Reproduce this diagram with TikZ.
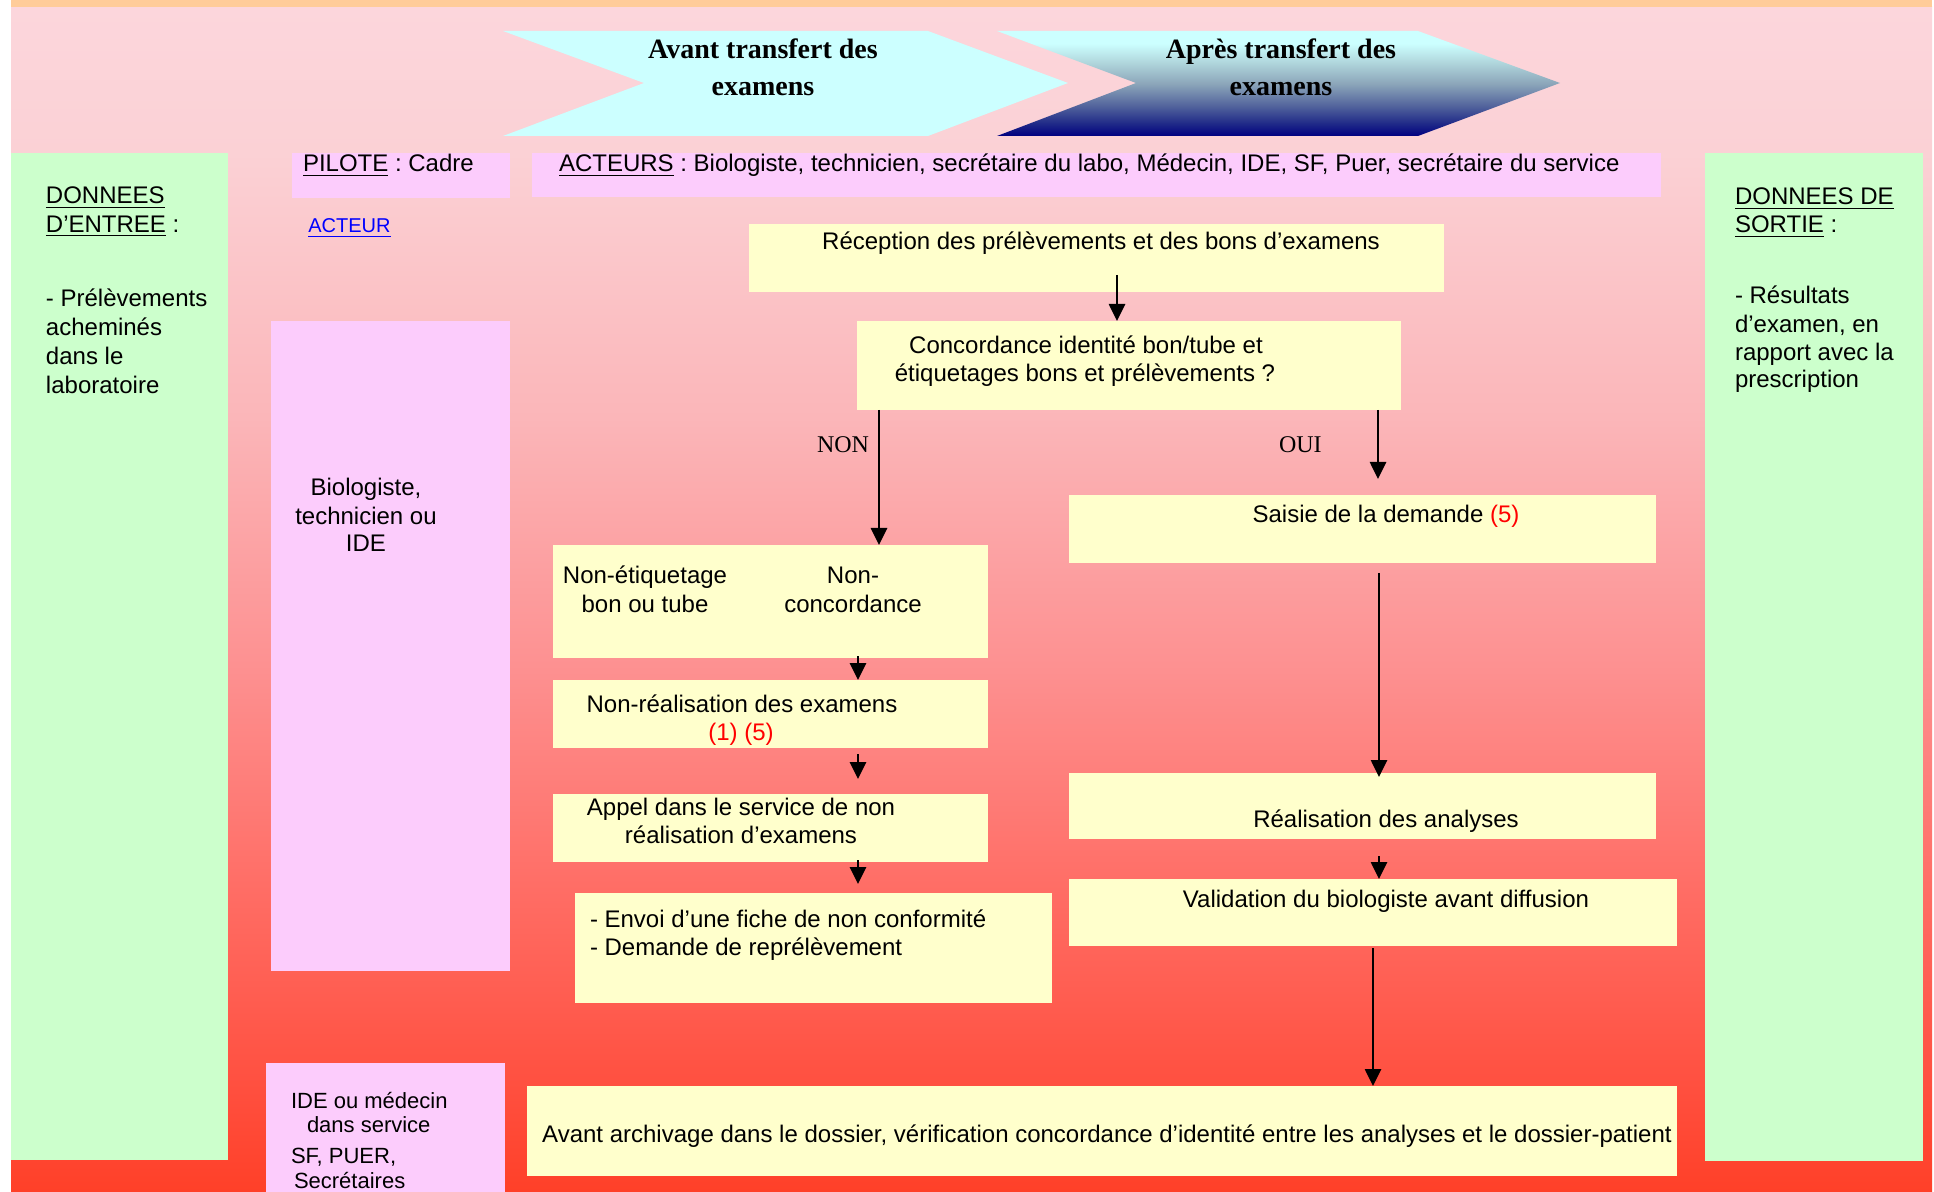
\documentclass[tikz,border=0pt]{standalone}
\usepackage{fontspec}
\setmainfont{Liberation Sans}
\newfontfamily\tms{Liberation Serif}
\usetikzlibrary{arrows.meta,fit,calc}
\frenchspacing
\definecolor{boxyellow}{HTML}{FFFFCC}
\definecolor{boxgreen}{HTML}{CCFFCC}
\definecolor{boxpink}{HTML}{FCCCFC}
\definecolor{stripor}{HTML}{FFCC99}
\definecolor{chevcyan}{HTML}{CCFFFF}
\definecolor{cha}{HTML}{000080}
\definecolor{chb}{HTML}{202A88}
\definecolor{chc}{HTML}{56689E}
\definecolor{chd}{HTML}{8CA6BA}
\definecolor{che}{HTML}{B0D6DC}
\definecolor{linkblue}{HTML}{0000FF}
\definecolor{numred}{HTML}{FF0000}
\definecolor{bga}{HTML}{FF4028}
\definecolor{bgb}{HTML}{FF5040}
\definecolor{bgc}{HTML}{FF6E66}
\definecolor{bgd}{HTML}{FD9090}
\definecolor{bge}{HTML}{FBB6B9}
\definecolor{bgf}{HTML}{FBD1D5}
\definecolor{bgg}{HTML}{FCD6DC}
\pgfdeclareverticalshading{bgshade}{100bp}{color(0bp)=(bga); color(25bp)=(bga); color(29.6bp)=(bgb); color(38bp)=(bgc); color(47bp)=(bgd); color(57.7bp)=(bge); color(68.85bp)=(bgf); color(75bp)=(bgg); color(100bp)=(bgg)}
\pgfdeclareverticalshading{chevshade}{100bp}{color(0bp)=(cha); color(25bp)=(cha); color(31bp)=(chb); color(40bp)=(chc); color(50bp)=(chd); color(60bp)=(che); color(69bp)=(chevcyan); color(75bp)=(chevcyan); color(100bp)=(chevcyan)}
\tikzset{
  boxbase/.style={inner sep=0pt, outer sep=0pt, draw=none},
  yel/.style={boxbase, fill=boxyellow},
  grn/.style={boxbase, fill=boxgreen},
  pnk/.style={boxbase, fill=boxpink},
  txt/.style={inner sep=0pt, outer sep=0pt, font=\fontsize{12}{14.5}\selectfont, anchor=base},
  txtw/.style={txt, anchor=base west},
  small/.style={inner sep=0pt, outer sep=0pt, font=\fontsize{11}{13}\selectfont, anchor=base west},
  hdr/.style={inner sep=0pt, outer sep=0pt, font=\tms\bfseries\fontsize{14}{16}\selectfont, anchor=base},
  yn/.style={inner sep=0pt, outer sep=0pt, font=\tms\fontsize{12}{14}\selectfont},
  arr/.style={line width=1.35pt, -{Triangle[length=8.5pt,width=8pt]}},
}
\begin{document}
\begin{tikzpicture}[x=0.5pt,y=-0.5pt]
\useasboundingbox (0,0) rectangle (1934,1192);
\fill[white] (0,0) rectangle (1934,1192);
\shade[shading=bgshade] (11,7) rectangle (1932,1192);
\fill[stripor] (11,0) rectangle (1932,7);

% chevrons
\fill[chevcyan] (503,31) -- (928,31) -- (1068,83) -- (928,136) -- (503,136) -- (644,83) -- cycle;
\shade[shading=chevshade] (997,31) -- (1418,31) -- (1560,83) -- (1418,136) -- (997,136) -- (1136,83) -- cycle;
\node[hdr] (h1a) at (763,59) {Avant transfert des};
\node[hdr] (h1b) at (763,96) {examens};
\node[hdr] (h2a) at (1281,59) {Après transfert des};
\node[hdr] (h2b) at (1281,96) {examens};

% side columns
\node[grn, fit={(11,153) (228,1160)}] (inbox) {};
\node[grn, fit={(1705,153) (1923,1161)}] (outbox) {};
\node[txtw] (in1) at (46,204) {\underline{DONNEES}};
\node[txtw] (in2) at (46,233) {\underline{D’ENTREE} :};
\node[txtw] (in3) at (46,307) {- Prélèvements};
\node[txtw] (in4) at (46,336) {acheminés};
\node[txtw] (in5) at (46,365) {dans le};
\node[txtw] (in6) at (46,394) {laboratoire};
\node[txtw] (out1) at (1735,205) {\underline{DONNEES DE}};
\node[txtw] (out2) at (1735,233) {\underline{SORTIE} :};
\node[txtw] (out3) at (1735,304) {- Résultats};
\node[txtw] (out4) at (1735,333) {d’examen, en};
\node[txtw] (out5) at (1735,361) {rapport avec la};
\node[txtw] (out6) at (1735,388) {prescription};

% actors
\node[pnk, fit={(292,153) (510,198)}] (pilote) {};
\node[pnk, fit={(532,153) (1661,197)}] (acteurs) {};
\node[pnk, fit={(271,321) (510,971)}] (bio) {};
\node[pnk, fit={(266,1063) (505,1192)}] (ide) {};
\node[txtw] (tpil) at (303,172) {\underline{PILOTE} : Cadre};
\node[txtw] (tact) at (559,172) {\underline{ACTEURS} : Biologiste, technicien, secrétaire du labo, Médecin, IDE, SF, Puer, secrétaire du service};
\node[inner sep=0pt, anchor=base west, font=\fontsize{10}{12}\selectfont, text=linkblue] (tlink) at (308,233) {\underline{ACTEUR}};
\node[txt] (tbio1) at (366,496) {Biologiste,};
\node[txt] (tbio2) at (366,524) {technicien ou};
\node[txt] (tbio3) at (366,552) {IDE};
\node[small] (tide1) at (291,1108) {IDE ou médecin};
\node[small] (tide2) at (307,1132) {dans service};
\node[small] (tide3) at (291,1163) {SF, PUER,};
\node[small] (tide4) at (294,1188) {Secrétaires};

% flow boxes
\node[yel, fit={(749,224) (1444,292)}] (recep) {};
\node[yel, fit={(857,321) (1401,410)}] (conc) {};
\node[yel, fit={(553,545) (988,658)}] (nonet) {};
\node[yel, fit={(553,680) (988,748)}] (nonreal) {};
\node[yel, fit={(553,794) (988,862)}] (appel) {};
\node[yel, fit={(575,893) (1052,1003)}] (envoi) {};
\node[yel, fit={(1069,495) (1656,563)}] (saisie) {};
\node[yel, fit={(1069,773) (1656,839)}] (realis) {};
\node[yel, fit={(1069,879) (1677,946)}] (valid) {};
\node[yel, fit={(527,1086) (1677,1176)}] (final) {};

\node[txt] (trecep) at (1101,250) {Réception des prélèvements et des bons d’examens};
\node[txt] (tconc1) at (1086,354) {Concordance identité bon/tube et};
\node[txt] (tconc2) at (1085,382) {étiquetages bons et prélèvements ?};
\node[yn, anchor=base east] (tnon) at (869,453) {NON};
\node[yn, anchor=base west] (toui) at (1279,453) {OUI};
\node[txt] (tnet1) at (645,583) {Non-étiquetage};
\node[txt] (tnet2) at (645,612) {bon ou tube};
\node[txt] (tnet3) at (853,583) {Non-};
\node[txt] (tnet4) at (853,612) {concordance};
\node[txt] (treal1) at (742,712) {Non-réalisation des examens};
\node[txt, text=numred] (treal2) at (741,740) {(1) (5)};
\node[txt] (tapp1) at (741,815) {Appel dans le service de non};
\node[txt] (tapp2) at (741,843) {réalisation d’examens};
\node[txtw] (tenv1) at (590,927) {- Envoi d’une fiche de non conformité};
\node[txtw] (tenv2) at (590,955) {- Demande de reprélèvement};
\node[txt] (tsais) at (1386,523) {Saisie de la demande \textcolor{numred}{(5)}};
\node[txt] (tana) at (1386,827) {Réalisation des analyses};
\node[txt] (tval) at (1386,907) {Validation du biologiste avant diffusion};
\node[txt] (tfin) at (1107,1142) {Avant archivage dans le dossier, vérification concordance d’identité entre les analyses et le dossier-patient};

% connectors
\draw[arr] ($(recep.south -| 1117,0)+(0,-17)$) -- (conc.north -| 1117,0);
\draw[arr] (conc.south -| 879,0) -- (nonet.north -| 879,0);
\draw[arr] (conc.south -| 1378,0) -- ($(saisie.north -| 1378,0)+(0,-16)$);
\draw[arr] ($(nonet.south -| 858,0)+(0,-2)$) -- (nonreal.north -| 858,0);
\draw[arr] ($(nonreal.south -| 858,0)+(0,6)$) -- ($(appel.north -| 858,0)+(0,-15)$);
\draw[arr] ($(appel.south -| 858,0)+(0,-2)$) -- ($(envoi.north -| 858,0)+(0,-9)$);
\draw[arr] ($(saisie.south -| 1379,0)+(0,10)$) -- ($(realis.north -| 1379,0)+(0,4)$);
\draw[arr] ($(realis.south -| 1379,0)+(0,17)$) -- (valid.north -| 1379,0);
\draw[arr] ($(valid.south -| 1373,0)+(0,2)$) -- (final.north -| 1373,0);
\end{tikzpicture}
\end{document}
